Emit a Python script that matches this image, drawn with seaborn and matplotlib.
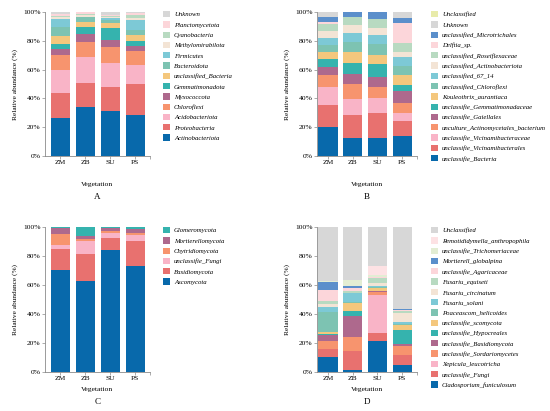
import matplotlib
matplotlib.use("Agg")
import matplotlib.pyplot as plt
import seaborn as sns
import pandas as pd
from matplotlib.patches import Patch

samples = ["ZM", "ZB", "SU", "PS"]

# ---- panel A (bacteria, phylum) ; bottom -> top
a_taxa = ["Actinobacteriota", "Proteobacteria", "Acidobacteriota", "Chloroflexi",
          "Myxococcota", "Gemmatimonadota", "unclassified_Bacteria", "Bacteroidota",
          "Firmicutes", "Methylomirabilota", "Cyanobacteria", "Planctomycetota", "Unknown"]
a_zm = [26.2, 17.4, 16.2, 10.4, 3.9, 3.5, 5.8, 6.0, 5.8, 1.5, 0.8, 0.8, 1.9]
a_zb = [33.8, 16.9, 17.8, 10.9, 5.3, 5.1, 3.5, 3.1, 0.4, 1.3, 0.7, 1.1, 0.1]
a_su = [31.0, 16.7, 17.1, 10.7, 5.1, 8.4, 3.4, 2.0, 1.2, 1.0, 0.7, 0.9, 1.8]
a_ps = [28.5, 21.5, 13.2, 9.9, 3.5, 3.0, 4.4, 3.5, 6.9, 1.2, 2.3, 1.1, 1.0]

# ---- panel B (bacteria, genus)
b_taxa = ["unclassifie_Bacteria", "unclassifie_Vicinamibacterales",
          "unclassifie_Vicinamibacteraceae", "unculture_Actinomycetales_bacterium",
          "unclassifie_Gaiellales", "unclassifie_Gemmatimonadaceae", "Kouleothrix_aurantiaca",
          "unclassified_Chloroflexi", "unclassified_67_14", "unclassified_Actinobacteriota",
          "unclassified_Roseiflexaceae", "Delftia_sp.", "unclassified_Microtrichales",
          "Unknown", "Unclassified"]
b_zm = [19.8, 15.4, 12.5, 8.5, 5.5, 5.6, 5.0, 4.8, 4.6, 5.4, 4.6, 1.4, 3.7, 3.2, 0.0]
b_zb = [12.3, 16.4, 10.7, 10.6, 7.2, 7.2, 7.6, 7.2, 6.4, 5.6, 5.0, 0.3, 3.2, 0.3, 0.0]
b_su = [12.7, 16.9, 10.7, 7.6, 7.2, 9.0, 6.3, 7.6, 6.3, 4.8, 5.8, 0.3, 4.8, 0.0, 0.0]
b_ps = [13.9, 10.4, 5.8, 6.5, 8.3, 4.4, 7.0, 6.4, 6.3, 3.5, 6.2, 13.9, 3.0, 4.4, 0.0]

# ---- panel C (fungi, phylum)
c_taxa = ["Ascomycota", "Basidiomycota", "unclassifie_Fungi", "Chytridiomycota",
          "Mortierellomycota", "Glomeromycota"]
c_zm = [70.3, 14.3, 3.2, 7.4, 4.1, 0.7]
c_zb = [63.0, 18.4, 9.2, 0.9, 2.3, 6.2]
c_su = [83.9, 8.5, 3.5, 1.1, 2.1, 0.9]
c_ps = [73.1, 17.5, 4.1, 1.2, 2.5, 1.6]

# ---- panel D (fungi, species)
d_taxa = ["Cladosporium_funiculosum", "unclassifie_Fungi", "Xepicula_leucotricha",
          "unclassifie_Sordariomycetes", "unclassifie_Basidiomycota", "unclassifie_Hypocreales",
          "unclassifie_scomycota", "Poaceascom_helicoides", "Fusariu_solani",
          "Fusariu_circinatum", "Fusariu_equiseti", "unclassifie_Agaricaceae",
          "Mortierell_globalpina", "unclassifie_Trichomeriaceae",
          "Remotididymella_anthropophila", "Unclassified"]
d_zm = [10.1, 5.8, 0.3, 5.0, 4.0, 0.9, 1.4, 14.2, 3.0, 2.1, 2.3, 7.6, 5.7, 0.7, 0.0, 36.9]
d_zb = [1.1, 13.2, 0.2, 9.8, 14.5, 3.2, 5.3, 1.0, 6.0, 0.5, 0.8, 2.3, 1.4, 3.9, 0.2, 36.6]
d_su = [21.4, 5.3, 26.4, 2.0, 0.5, 0.5, 1.8, 0.4, 1.1, 2.3, 3.0, 0.8, 0.3, 1.0, 6.6, 26.6]
d_ps = [4.8, 6.6, 0.3, 6.2, 1.4, 9.7, 3.4, 0.4, 1.5, 6.2, 1.8, 0.3, 0.6, 0.3, 0.2, 56.3]

# colours
blue, salmon, pink, orange = "#0869AB", "#E8716F", "#F9B4C7", "#F7946E"
mauve, teal, yellow, mint = "#AE698D", "#35B3AE", "#F4C77D", "#7DC3B2"
cyan, beige, lgreen, lpink = "#7DC9D6", "#F3E4D5", "#B8DAC1", "#FCD6DA"
grey, blue2, pyellow, pgreen = "#D7D7D7", "#5B8FCB", "#E8EBAA", "#E3EDD3"

a_colors = [blue, salmon, pink, orange, mauve, teal, yellow, mint, cyan, beige, lgreen, lpink, grey]
b_colors = [blue, salmon, pink, orange, mauve, teal, yellow, mint, cyan, beige, lgreen, lpink,
            blue2, grey, pyellow]
c_colors = [blue, salmon, pink, orange, mauve, teal]
d_colors = [blue, salmon, pink, orange, mauve, teal, yellow, mint, cyan, beige, lgreen, lpink,
            blue2, pgreen, "#FDE2E4", grey]

W, H = 550, 411
fig = plt.figure(figsize=(W / 100, H / 100), dpi=100)
serif = "Liberation Serif"
plt.rcParams["font.family"] = serif


def panel(rect, taxa, colors, values, xlim, letter, leg_x, leg_top, lab_y, let_y):
    ax = fig.add_axes([rect[0] / W, 1 - rect[3] / H, (rect[2] - rect[0]) / W,
                       (rect[3] - rect[1]) / H])
    rows = []
    for s, vals in zip(samples, values):
        for t, v in zip(taxa, vals):
            rows.append({"Vegetation": s, "taxon": t, "value": v})
    df = pd.DataFrame(rows)
    order = taxa[::-1]
    pal = dict(zip(taxa, colors))
    sns.histplot(data=df, x="Vegetation", weights="value", hue="taxon", hue_order=order,
                 multiple="stack", shrink=0.78, palette=pal, alpha=1, linewidth=0,
                 legend=False, ax=ax)
    ax.set_xlim(*xlim)
    ax.set_ylim(0, 100)
    ax.set_yticks([0, 20, 40, 60, 80, 100])
    ax.set_yticklabels([f"{v}%" for v in [0, 20, 40, 60, 80, 100]])
    ax.set_xticks(range(4))
    ax.set_xticklabels(samples)
    ax.set_xticks([xlim[1]], minor=True)
    ax.set_xlabel("")
    ax.set_ylabel("")
    for sp in ["top", "right"]:
        ax.spines[sp].set_visible(False)
    for sp in ["left", "bottom"]:
        ax.spines[sp].set_color("#8a8a8a")
        ax.spines[sp].set_linewidth(0.6)
    ax.tick_params(which="both", length=2, width=0.5, color="#8a8a8a", labelsize=5.4,
                   pad=1.2, labelcolor="black")
    cx = (rect[0] + rect[2]) / 2 / W
    fig.text(cx, 1 - lab_y / H, "Vegetation", ha="center", va="center", fontsize=5.4)
    fig.text(cx, 1 - let_y / H, letter, ha="center", va="center", fontsize=6.5)
    fig.text((rect[0] - 30) / W, 1 - (rect[1] + rect[3]) / 2 / H, "Relative abundance (%)",
             rotation=90, ha="center", va="center", fontsize=5.3)
    handles = [Patch(facecolor=pal[t], edgecolor="none", label=t) for t in order]
    ax.legend(handles=handles, loc="upper left", bbox_to_anchor=(leg_x / W, 1 - leg_top / H),
              bbox_transform=fig.transFigure, frameon=False,
              prop={"family": serif, "style": "italic", "size": 4.9},
              handlelength=1.05, handleheight=1.05, handletextpad=0.55,
              labelspacing=0.56, borderpad=0, borderaxespad=0)
    return ax


panel((45, 12, 150, 156), a_taxa, a_colors, [a_zm, a_zb, a_su, a_ps], (-0.62, 3.59), "A",
      163, 11, 184, 197)
panel((317, 12, 417, 156), b_taxa, b_colors, [b_zm, b_zb, b_su, b_ps], (-0.45, 3.6), "B",
      431, 11, 184, 197)
panel((45, 227, 150, 372), c_taxa, c_colors, [c_zm, c_zb, c_su, c_ps], (-0.62, 3.59), "C",
      163, 227, 389, 402)
panel((317, 227, 417, 372), d_taxa, d_colors, [d_zm, d_zb, d_su, d_ps], (-0.45, 3.6), "D",
      431, 227, 389, 402)

fig.savefig("out.png", dpi=100)
